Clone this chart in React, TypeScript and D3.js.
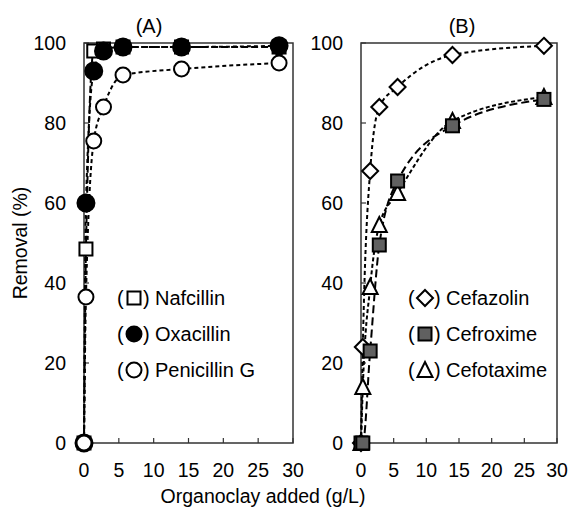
import React from 'react';
import * as d3 from 'd3';

// ---- data ----
const doseA = [0, 0.28, 1.4, 2.8, 5.6, 14, 28];
const nafcillin = [0, 48.5, 98, 98.5, 99, 99, 99];
const oxacillin = [0, 60, 93, 98, 99, 99, 99.3];
const penicillinG = [0, 36.5, 75.5, 84, 92, 93.5, 95];

const doseB = [0, 0.28, 1.4, 2.8, 5.6, 14, 28];
const cefazolin = [0, 24, 68, 84, 89, 97, 99.3];
const cefroxime = [0, 0, 23, 49.5, 65.5, 79.3, 85.9];
const cefotaxime = [0, 14, 39, 54.5, 62.5, 80.5, 86.5];

const xTicks = [0, 5, 10, 15, 20, 25, 30];
const yTicks = [0, 20, 40, 60, 80, 100];

const W = 571;
const H = 507;
const FONT = 'Liberation Sans, Arial, sans-serif';
const FS = 19.5;
const LFS = 20;

type Shape = 'square' | 'circle' | 'diamond' | 'triangle';
interface Series {
  name: string;
  x: number[];
  y: number[];
  shape: Shape;
  fill: string;
  dash: string;
}

const panels = [
  {
    title: '(A)',
    titleX: 149,
    left: 84,
    right: 293,
    legendX: 117,
    series: [
      { name: 'Nafcillin', x: doseA, y: nafcillin, shape: 'square', fill: '#fff', dash: '7,3' },
      { name: 'Oxacillin', x: doseA, y: oxacillin, shape: 'circle', fill: '#000', dash: '4,3' },
      { name: 'Penicillin G', x: doseA, y: penicillinG, shape: 'circle', fill: '#fff', dash: '4,3' },
    ] as Series[],
    drawOrder: [0, 1, 2],
  },
  {
    title: '(B)',
    titleX: 462,
    left: 361,
    right: 557,
    legendX: 408,
    series: [
      { name: 'Cefazolin', x: doseB, y: cefazolin, shape: 'diamond', fill: '#fff', dash: '4,3' },
      { name: 'Cefroxime', x: doseB, y: cefroxime, shape: 'square', fill: '#606060', dash: '8,4' },
      { name: 'Cefotaxime', x: doseB, y: cefotaxime, shape: 'triangle', fill: '#fff', dash: '4,2.5' },
    ] as Series[],
    drawOrder: [2, 0, 1],
  },
];

const TOP = 43;
const BOTTOM = 443;

function Marker({ shape, cx, cy, fill, legend }: { shape: Shape; cx: number; cy: number; fill: string; legend?: boolean }) {
  const sw = 2;
  if (shape === 'square') {
    return <rect x={cx - 6.5} y={cy - 6.5} width={13} height={13} fill={fill} stroke="#000" strokeWidth={sw} />;
  }
  if (shape === 'circle') {
    const r = fill === '#000' && !legend ? 8.5 : 7.5;
    return <circle cx={cx} cy={cy} r={r} fill={fill} stroke="#000" strokeWidth={sw} />;
  }
  if (shape === 'diamond') {
    const s = 8;
    return (
      <path
        d={`M${cx},${cy - s}L${cx + s},${cy}L${cx},${cy + s}L${cx - s},${cy}Z`}
        fill={fill}
        stroke="#000"
        strokeWidth={sw}
      />
    );
  }
  const h = 7;
  return (
    <path
      d={`M${cx},${cy - h - 1}L${cx + 7.5},${cy + h}L${cx - 7.5},${cy + h}Z`}
      fill={fill}
      stroke="#000"
      strokeWidth={sw}
    />
  );
}

function Panel({ p }: { p: (typeof panels)[number] }) {
  const x = d3.scaleLinear().domain([0, 30]).range([p.left, p.right]);
  const y = d3.scaleLinear().domain([0, 100]).range([BOTTOM, TOP]);
  const line = d3
    .line<[number, number]>()
    .x((d) => x(d[0]))
    .y((d) => y(d[1]))
    .curve(d3.curveMonotoneX);
  const legendRows = [298, 334, 370];
  return (
    <g>
      <text x={p.titleX} y={33} textAnchor="middle" fontSize={LFS} fontFamily={FONT}>
        {p.title}
      </text>
      <rect x={p.left} y={TOP} width={p.right - p.left} height={BOTTOM - TOP} fill="none" stroke="#333" strokeWidth={1.5} />
      {xTicks.map((t) => (
        <g key={'x' + t}>
          <line x1={x(t)} x2={x(t)} y1={BOTTOM} y2={BOTTOM - 5} stroke="#333" strokeWidth={1.2} />
          <text x={x(t)} y={477} textAnchor="middle" fontSize={FS} fontFamily={FONT}>
            {t}
          </text>
        </g>
      ))}
      {yTicks.map((t) => (
        <g key={'y' + t}>
          <line x1={p.left} x2={p.left + 5} y1={y(t)} y2={y(t)} stroke="#333" strokeWidth={1.2} />
          <text x={p.left - 18} y={y(t) + 7} textAnchor="end" fontSize={FS} fontFamily={FONT}>
            {t}
          </text>
        </g>
      ))}
      {p.series.map((s, i) => (
        <path
          key={'l' + i}
          d={line(s.x.map((v, j) => [v, s.y[j]] as [number, number])) || ''}
          fill="none"
          stroke="#000"
          strokeWidth={2}
          strokeDasharray={s.dash}
        />
      ))}
      {p.drawOrder.map((i) => {
        const s = p.series[i];
        return (
          <g key={'m' + i}>
            {s.x.map((v, j) => (
              <Marker key={j} shape={s.shape} cx={x(v)} cy={y(s.y[j])} fill={s.fill} />
            ))}
          </g>
        );
      })}
      {p.series.map((s, i) => (
        <g key={'lg' + i}>
          <text x={p.legendX} y={legendRows[i] + 7} fontSize={LFS} fontFamily={FONT}>
            (
          </text>
          <Marker shape={s.shape} cx={p.legendX + 17} cy={legendRows[i]} fill={s.fill} legend />
          <text x={p.legendX + 26} y={legendRows[i] + 7} fontSize={LFS} fontFamily={FONT}>
            )
          </text>
          <text x={p.legendX + 38} y={legendRows[i] + 7} fontSize={LFS} fontFamily={FONT}>
            {s.name}
          </text>
        </g>
      ))}
    </g>
  );
}

export default function App() {
  return (
    <svg
      width={W}
      height={H}
      viewBox={`0 0 ${W} ${H}`}
      style={{ position: 'absolute', left: 0, top: 0, background: '#fff' }}
    >
      <rect x={0} y={0} width={W} height={H} fill="#fff" />
      {panels.map((p, i) => (
        <Panel key={i} p={p} />
      ))}
      <text
        transform={`translate(27,${(TOP + BOTTOM) / 2}) rotate(-90)`}
        textAnchor="middle"
        fontSize={FS}
        fontFamily={FONT}
      >
        Removal (%)
      </text>
      <text x={263} y={503} textAnchor="middle" fontSize={FS} fontFamily={FONT}>
        Organoclay added (g/L)
      </text>
    </svg>
  );
}
